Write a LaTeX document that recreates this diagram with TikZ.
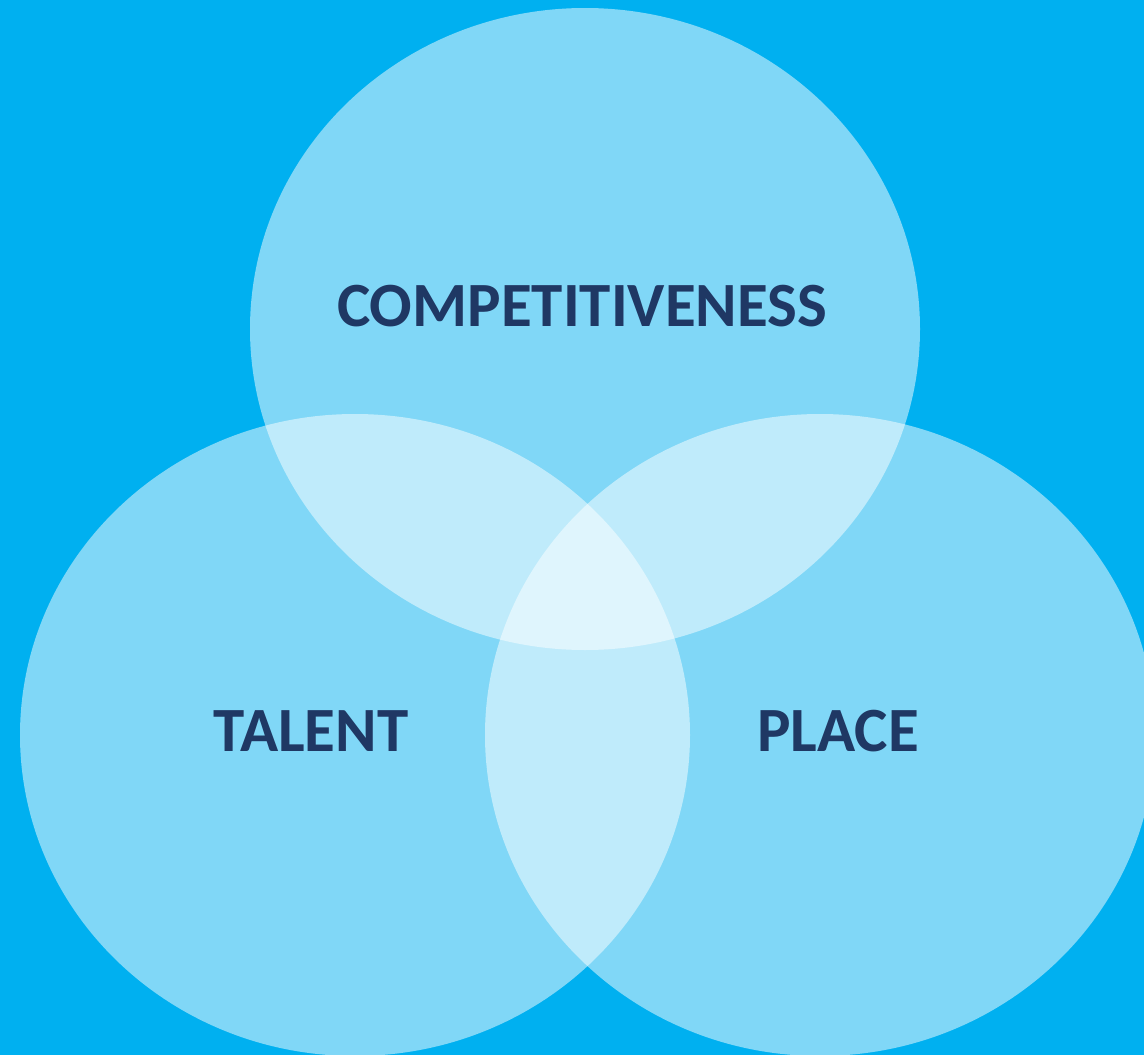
\documentclass[tikz,border=0pt]{standalone}
\usepackage{fontspec}
\setmainfont{Carlito}
\usepackage{tikz}
\usetikzlibrary{shapes.geometric}

\definecolor{bgblue}{HTML}{00B0F0}
\definecolor{navy}{HTML}{1F3864}

\begin{document}
\begin{tikzpicture}
  [
  x=1pt,y=-1pt,
  circ/.style={ellipse,inner sep=0pt,minimum width=670pt,minimum height=642pt,
    fill=white,fill opacity=0.5},
  lbl/.style={text=navy,font=\fontsize{63}{70}\selectfont\bfseries,inner sep=0pt}
  ]

  \fill[bgblue] (0,0) rectangle (1144,1055);
  \useasboundingbox (0,0) rectangle (1144,1055);
  \clip (0,0) rectangle (1144,1055);

  \node (comp)   [circ] at (585,329) {};
  \node (talent) [circ] at (355,735) {};
  \node (place)  [circ] at (820,735) {};

  \node (tcomp)   [lbl] at (582,306) {COMPETITIVENESS};
  \node (ttalent) [lbl] at (311,731) {TALENT};
  \node (tplace)  [lbl] at (838,731) {PLACE};
\end{tikzpicture}
\end{document}
